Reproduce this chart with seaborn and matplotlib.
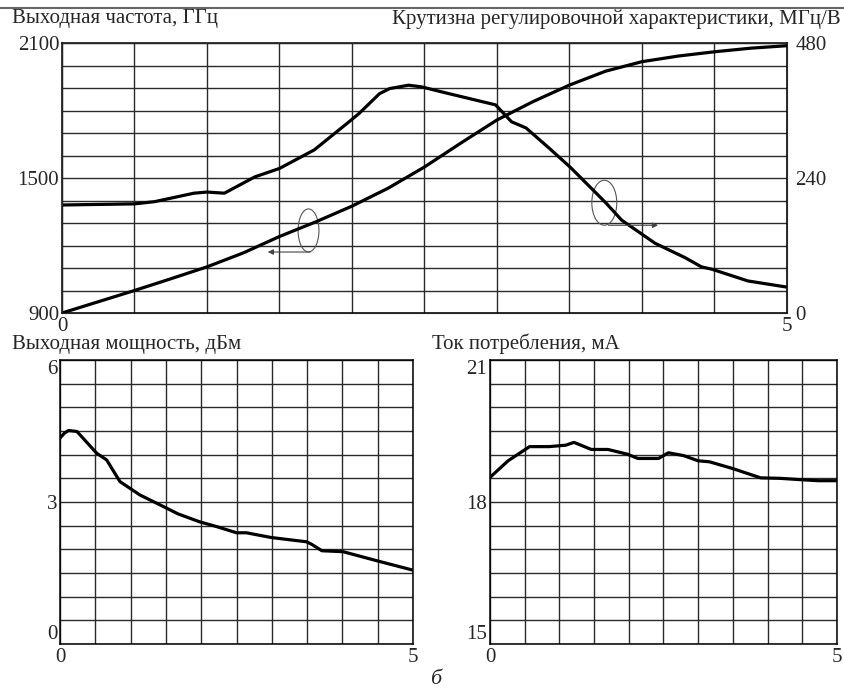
import numpy as np
import pandas as pd
import matplotlib
matplotlib.use("Agg")
import matplotlib.pyplot as plt
import seaborn as sns
from matplotlib.patches import Ellipse
from matplotlib.lines import Line2D

# control voltage, V
freq_t = [0, 0.25, 0.5, 0.75, 1.0, 1.25, 1.5, 1.75, 2.0, 2.25, 2.5, 2.75,
          3.0, 3.25, 3.5, 3.75, 4.0, 4.25, 4.5, 4.75, 5.0]
# output frequency, MHz (left axis)
freq = [900, 950, 1000, 1052, 1105, 1167, 1240, 1305, 1375, 1455, 1549, 1655,
        1758, 1840, 1913, 1975, 2017, 2042, 2061, 2077, 2088]

slope_t = [0, 0.5, 0.64, 0.91, 1.0, 1.12, 1.33, 1.5, 1.74, 1.98, 2.05, 2.19,
           2.26, 2.39, 2.48, 2.62, 2.99, 3.1, 3.2, 3.36, 3.51, 3.75, 3.86,
           4.09, 4.3, 4.41, 4.48, 4.73, 5.0]
# tuning sensitivity, MHz/V (right axis)
slope = [192, 194, 198, 213, 215, 213, 242, 257, 290, 340, 355, 390,
         399, 405, 402, 393, 370, 340, 329, 293, 258, 196, 165,
         124, 98, 82, 78, 57, 46]

power_t = [0, 0.06, 0.12, 0.24, 0.52, 0.66, 0.85, 1.13, 1.47, 1.67, 1.98,
           2.22, 2.5, 2.64, 2.99, 3.21, 3.49, 3.56, 3.71, 4.01, 4.51, 5.0]
power = [4.35, 4.45, 4.51, 4.49, 4.03, 3.89, 3.43, 3.15, 2.90, 2.75, 2.58,
         2.48, 2.35, 2.35, 2.25, 2.21, 2.16, 2.11, 1.97, 1.95, 1.75, 1.56]

current_t = [0, 0.26, 0.57, 0.85, 1.09, 1.21, 1.46, 1.7, 1.98, 2.13, 2.43,
             2.57, 2.79, 3.0, 3.16, 3.49, 3.9, 4.18, 4.49, 4.73, 5.0]
current = [18.52, 18.87, 19.17, 19.17, 19.2, 19.26, 19.11, 19.11, 19.01,
           18.92, 18.92, 19.04, 18.98, 18.87, 18.85, 18.71, 18.51, 18.5,
           18.47, 18.45, 18.45]

sns.set_style("white")
plt.rcParams['font.family'] = ['Liberation Serif', 'DejaVu Serif']
fs = 15

fig = plt.figure(figsize=(8.45, 6.91), dpi=100)
W, H = 845, 691

def box(x0, y0, x1, y1):
    return [x0 / W, 1 - y1 / H, (x1 - x0) / W, (y1 - y0) / H]

ax = fig.add_axes(box(62, 43, 787, 313))
ax2 = ax.twinx()
axp = fig.add_axes(box(60, 360, 413, 644))
axi = fig.add_axes(box(490, 360, 837, 644))

lw = 2.3
grid_c = '#2a2a2a'

def setup(a, ylo, yhi, ystep, ylabels):
    a.set_xlim(0, 5)
    a.set_ylim(ylo, yhi)
    a.set_xticks(np.arange(0, 5.01, 0.5), minor=True)
    a.set_yticks(np.arange(ylo, yhi + 1e-9, ystep), minor=True)
    a.set_xticks([0, 5])
    a.set_xticklabels(['0', '5'])
    a.set_yticks(ylabels)
    a.set_yticklabels([str(v) for v in ylabels])
    a.grid(True, which='minor', color=grid_c, lw=1.0)
    a.grid(True, which='major', color=grid_c, lw=1.0)
    a.tick_params(which='both', length=0, labelsize=fs)
    a.tick_params(axis='x', pad=3)
    a.tick_params(axis='y', pad=2)
    for s in a.spines.values():
        s.set_color('black')
        s.set_linewidth(1.1)
    a.set_xlabel('')
    a.set_ylabel('')

sns.lineplot(x=freq_t, y=freq, ax=ax, color='black', lw=lw)
sns.lineplot(x=slope_t, y=slope, ax=ax2, color='black', lw=lw)
setup(ax, 900, 2100, 100, [900, 1500, 2100])
ax2.set_ylim(0, 480)
ax2.set_yticks([0, 240, 480])
ax2.tick_params(length=0, pad=6, labelsize=fs)
ax2.grid(False)
ax2.set_ylabel('')

sns.lineplot(x=power_t, y=power, ax=axp, color='black', lw=lw)
setup(axp, 0, 6, 0.5, [0, 3, 6])
sns.lineplot(x=current_t, y=current, ax=axi, color='black', lw=lw)
setup(axi, 15, 21, 0.5, [15, 18, 21])

# lower plots: end labels sit inside the axis range
for a in (axp, axi):
    labs = a.get_yticklabels()
    labs[0].set_va('bottom')
    labs[-1].set_va('top')

# ellipses with arrows pointing to the axes
ax.add_patch(Ellipse((1.70, 1267), 0.144, 191, fill=False, ec='#555555', lw=0.8))
ax.annotate('', xy=(1.40, 1171), xytext=(1.73, 1171),
            arrowprops=dict(arrowstyle='-|>', color='#444444', lw=0.8,
                            mutation_scale=8))
ax2.add_patch(Ellipse((3.74, 196), 0.172, 80, fill=False, ec='#555555', lw=0.8))
ax2.annotate('', xy=(4.13, 156), xytext=(3.75, 156),
             arrowprops=dict(arrowstyle='-|>', color='#444444', lw=0.8,
                             mutation_scale=8))

fig.text(12 / W, 1 - 19 / H, 'Выходная частота, ГГц', va='center', ha='left', fontsize=fs)
fig.text(841 / W, 1 - 19 / H, 'Крутизна регулировочной характеристики, МГц/В',
         va='center', ha='right', fontsize=fs)
fig.text(12 / W, 1 - 345 / H, 'Выходная мощность, дБм', va='center', ha='left', fontsize=fs)
fig.text(432 / W, 1 - 344 / H, 'Ток потребления, мА', va='center', ha='left', fontsize=fs)
fig.text(436 / W, 1 - 679 / H, 'б', va='center', ha='center', fontsize=fs + 1, style='italic')

fig.add_artist(Line2D([0, 1], [1 - 8 / H, 1 - 8 / H], color='#666666', lw=1.5))

fig.savefig('out.png', dpi=100)
